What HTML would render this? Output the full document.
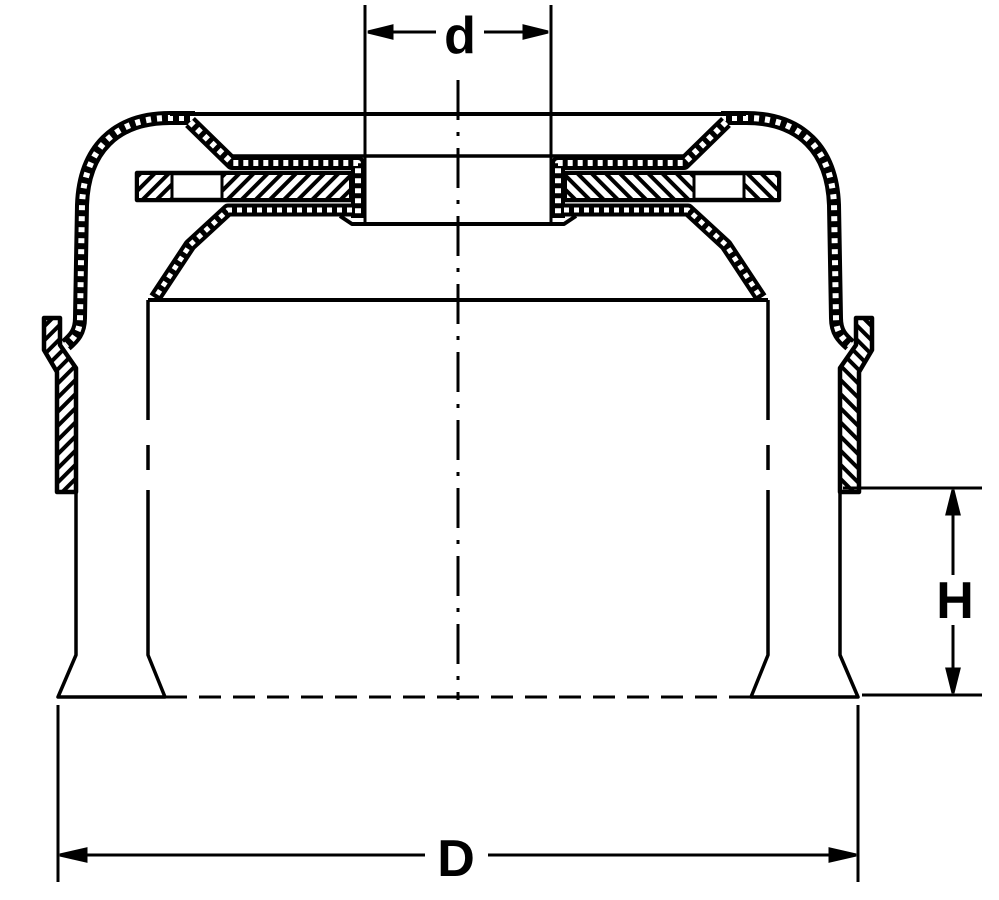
<!DOCTYPE html>
<html><head><style>html,body{margin:0;padding:0;background:#fff}svg{display:block}</style></head>
<body>
<svg width="999" height="900" viewBox="0 0 999 900" xmlns="http://www.w3.org/2000/svg">
<defs>
<pattern id="h" patternUnits="userSpaceOnUse" width="10" height="10" patternTransform="rotate(45)">
<rect width="10" height="10" fill="#fff"/><rect width="4" height="10" fill="#000"/>
</pattern>
<g id="half" fill="none" stroke="#000" stroke-linejoin="round">
  <path d="M195 118 L170 118 C115 118 84 150 82 205 L80 318 C80 332 74 338 66 345" stroke-width="14"/>
  <path d="M195 118 L170 118 C115 118 84 150 82 205 L80 318 C80 332 74 338 66 345" stroke="#fff" stroke-width="6" stroke-dasharray="5 6"/>
  <line x1="170" y1="114" x2="458" y2="114" stroke-width="4"/>
  <path d="M44 318 L60 318 L60 345 L76 368 L76 492 L57 492 L57 372 L44 350 Z" fill="url(#h)" stroke-width="4.5"/>
  <path d="M76 492 L76 655 L58 697 L165 697 L148 655 L148 530" stroke-width="3.5"/>
  <line x1="148" y1="300" x2="148" y2="420" stroke-width="3.5"/>
  <line x1="148" y1="445" x2="148" y2="470" stroke-width="3.5"/>
  <line x1="148" y1="490" x2="148" y2="530" stroke-width="3.5"/>
  <line x1="165" y1="697" x2="458" y2="697" stroke-width="3" stroke-dasharray="22 12"/>
  <path d="M190 122 L232 163 L358 163 L358 218" stroke-width="14"/>
  <path d="M190 122 L232 163 L358 163 L358 218" stroke="#fff" stroke-width="6" stroke-dasharray="5 5"/>
  <line x1="232" y1="156" x2="458" y2="156" stroke-width="3.5"/>
  <rect x="137" y="173" width="214" height="27" fill="#fff" stroke-width="4.5"/>
  <rect x="139" y="175" width="32" height="23" fill="url(#h)" stroke="none"/>
  <rect x="222" y="175" width="127" height="23" fill="url(#h)" stroke="none"/>
  <line x1="172" y1="173" x2="172" y2="200" stroke-width="3"/>
  <line x1="222" y1="173" x2="222" y2="200" stroke-width="3"/>
  <path d="M352 210 L228 210 L190 245 L155 298" stroke-width="13"/>
  <path d="M352 210 L228 210 L190 245 L155 298" stroke="#fff" stroke-width="5" stroke-dasharray="5 5"/>
  <path d="M340 216 L352 224 L458 224" stroke-width="4"/>
  <line x1="148" y1="300" x2="458" y2="300" stroke-width="4"/>
  <line x1="365" y1="5" x2="365" y2="222" stroke-width="3"/>
</g>
</defs>
<use href="#half"/>
<use href="#half" transform="translate(916,0) scale(-1,1)"/>
<line x1="458" y1="80" x2="458" y2="700" stroke="#000" stroke-width="3" stroke-dasharray="40 12 4 12"/>
<g stroke="#000" stroke-width="3" fill="#000">
<line x1="368" y1="32" x2="436" y2="32"/><line x1="484" y1="32" x2="548" y2="32"/>
<path d="M368 32 L392 26 L392 38 Z"/><path d="M548 32 L524 26 L524 38 Z"/>
<line x1="843" y1="488" x2="982" y2="488"/><line x1="862" y1="695" x2="982" y2="695"/>
<line x1="953" y1="490" x2="953" y2="575"/><line x1="953" y1="625" x2="953" y2="693"/>
<path d="M953 490 L947 514 L959 514 Z"/><path d="M953 693 L947 669 L959 669 Z"/>
<line x1="58" y1="705" x2="58" y2="882"/><line x1="858" y1="705" x2="858" y2="882"/>
<line x1="60" y1="855" x2="425" y2="855"/><line x1="488" y1="855" x2="856" y2="855"/>
<path d="M60 855 L86 849 L86 861 Z"/><path d="M856 855 L830 849 L830 861 Z"/>
</g>
<g font-family="Liberation Sans, sans-serif" font-weight="bold" fill="#000" text-anchor="middle">
<text x="460" y="53" font-size="52">d</text>
<text x="955" y="618" font-size="52">H</text>
<text x="456" y="876" font-size="52">D</text>
</g>
</svg>
</body></html>
